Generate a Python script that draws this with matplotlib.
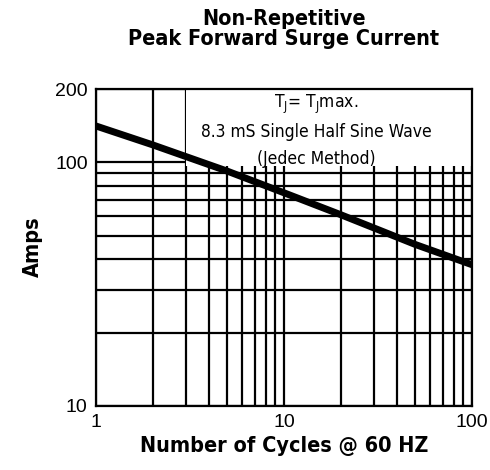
import numpy as np
import matplotlib.pyplot as plt
from matplotlib.patches import Rectangle
from matplotlib.ticker import FixedLocator, NullFormatter

cycles = [1, 2, 5, 10, 20, 50, 100]
amps = [141, 118, 92, 75, 61, 46, 38]

x_ticks = [1, 10, 100]
y_ticks = [10, 100, 200]
x_minor = [2, 3, 4, 5, 6, 7, 8, 9, 20, 30, 40, 50, 60, 70, 80, 90]
y_minor = [20, 30, 40, 50, 60, 70, 80, 90]

plt.rcParams['font.family'] = ['Liberation Sans', 'DejaVu Sans']
cond = dict(family='DejaVu Sans', stretch='condensed')

fig = plt.figure(figsize=(4.9, 4.7), dpi=100)
ax = fig.add_axes([96/490, 1 - 406/470, 376/490, 317/470])
ax.set_xscale('log')
ax.set_yscale('log')
ax.set_xlim(1, 100)
ax.set_ylim(10, 200)

ax.xaxis.set_major_locator(FixedLocator(x_ticks))
ax.yaxis.set_major_locator(FixedLocator(y_ticks))
ax.xaxis.set_minor_locator(FixedLocator(x_minor))
ax.yaxis.set_minor_locator(FixedLocator(y_minor))
ax.xaxis.set_minor_formatter(NullFormatter())
ax.yaxis.set_minor_formatter(NullFormatter())
ax.set_xticklabels([str(v) for v in x_ticks])
ax.set_yticklabels([str(v) for v in y_ticks])
ax.tick_params(which='both', length=0, labelsize=14, pad=6)

ax.grid(True, which='both', color='black', linewidth=1.6)
for s in ax.spines.values():
    s.set_linewidth(1.6)

# white box behind the note
ax.add_patch(Rectangle((3.0, 97), 97, 103, facecolor='white', edgecolor='none', zorder=2.5))

ax.plot(cycles, amps, color='black', linewidth=5, solid_capstyle='butt', zorder=3)

note = [r'T$_\mathregular{J}$= T$_\mathregular{J}$max.', '8.3 mS Single Half Sine Wave', '(Jedec Method)']
for i, line in enumerate(note):
    ax.text(0.585, 0.952 - 0.087 * i, line, transform=ax.transAxes, ha='center', va='center',
            fontsize=12.5, zorder=4, **cond)

fig.text(284/490, 1 - 29/470, 'Non-Repetitive\nPeak Forward Surge Current', ha='center', va='center',
         fontsize=15.5, fontweight='bold', linespacing=1.05, **cond)
fig.text(284/490, 1 - 446/470, 'Number of Cycles @ 60 HZ', ha='center', va='center',
         fontsize=15.5, fontweight='bold', **cond)
fig.text(33/490, 1 - 247/470, 'Amps', ha='center', va='center', rotation=90,
         fontsize=15.5, fontweight='bold', **cond)

fig.savefig('out.png', dpi=100)
